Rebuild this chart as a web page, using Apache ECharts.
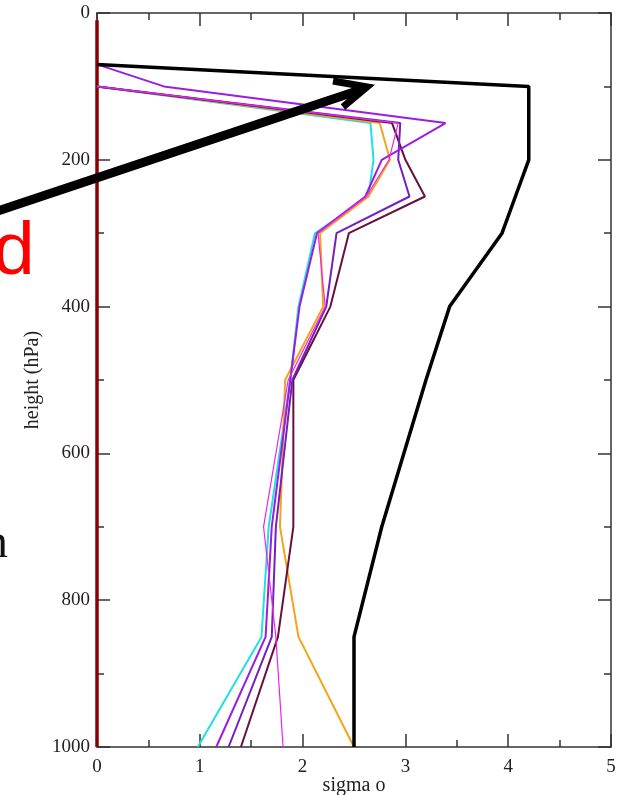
<!DOCTYPE html>
<html>
<head>
<meta charset="utf-8">
<script src="https://cdn.jsdelivr.net/npm/echarts@6/dist/echarts.min.js"></script>
<style>
  html, body { margin: 0; padding: 0; background: #fff; }
  #chart { width: 623px; height: 795px; }
</style>
</head>
<body>
<div id="chart"></div>
<script>
// pressure levels (hPa)
const levelsStd = [100, 150, 200, 250, 300, 400, 500, 700, 850, 1000]
const levelsTop = [70, 100, 150, 200, 250, 300, 400, 500, 700, 850, 1000]
const levelsRed = [10, 1000]

// sigma o values
const sigmaBlack  = [0, 4.2, 4.2, 4.2, 4.07, 3.94, 3.43, 3.2, 2.77, 2.5, 2.5]
const sigmaViolet = [0, 0.65, 3.39, 2.77, 2.61, 2.14, 1.97, 1.88, 1.70, 1.64, 1.16]
const sigmaCyan    = [0, 2.66, 2.69, 2.64, 2.12, 1.96, 1.88, 1.67, 1.60, 0.98]
const sigmaOrange  = [0, 2.75, 2.85, 2.64, 2.17, 2.2, 1.83, 1.78, 1.96, 2.5]
const sigmaMagenta = [0, 2.93, 2.84, 2.62, 2.15, 2.22, 1.86, 1.62, 1.74, 1.81]
const sigmaIndigo  = [0, 2.95, 2.93, 3.04, 2.33, 2.23, 1.90, 1.74, 1.70, 1.28]
const sigmaMaroon  = [0, 2.87, 3.0, 3.19, 2.45, 2.27, 1.91, 1.91, 1.76, 1.40]
const sigmaRed     = [0, 0]

const xTicks = [0, 1, 2, 3, 4, 5]
const yTicks = [0, 200, 400, 600, 800, 1000]

const pairs = (xs, ys) => xs.map((x, i) => [x, ys[i]])

const lineSeries = (data, color, width) => ({
  type: 'line',
  data,
  showSymbol: false,
  symbol: 'none',
  animation: false,
  lineStyle: { color, width },
  itemStyle: { color },
  z: 3,
})

const serif = 'Liberation Serif'
const axisCol = '#333'
const tickStyle = { color: axisCol, width: 1.5 }

// frame axis pieces shared by all four sides (ticks point into the plot)
const frame = {
  axisLine: { show: true, onZero: false, lineStyle: tickStyle },
  axisTick: { show: true, inside: true, length: 13, lineStyle: tickStyle },
  minorTick: { show: true, splitNumber: 2, length: 7, lineStyle: tickStyle },
  splitLine: { show: false },
}

const chart = echarts.init(document.getElementById('chart'))

const option = {
  animation: false,
  backgroundColor: '#fff',
  grid: { left: 97, right: 12, top: 13, bottom: 48, containLabel: false, outerBoundsMode: 'none' },
  xAxis: [
    {
      type: 'value',
      position: 'bottom',
      min: xTicks[0],
      max: xTicks[xTicks.length - 1],
      interval: 1,
      name: 'sigma o',
      nameLocation: 'middle',
      nameGap: 29,
      nameMoveOverlap: false,
      nameTextStyle: { fontFamily: serif, fontSize: 20, color: '#222' },
      ...frame,
      axisLabel: { fontFamily: serif, fontSize: 19, color: '#222', margin: 11 },
    },
    {
      type: 'value',
      position: 'top',
      min: xTicks[0],
      max: xTicks[xTicks.length - 1],
      interval: 1,
      ...frame,
      axisLabel: { show: false },
    },
  ],
  yAxis: [
    {
      type: 'value',
      position: 'left',
      inverse: true,
      min: yTicks[0],
      max: yTicks[yTicks.length - 1],
      interval: 200,
      name: 'height (hPa)',
      nameLocation: 'middle',
      nameGap: 54,
      nameMoveOverlap: false,
      nameTextStyle: { fontFamily: serif, fontSize: 20, color: '#222' },
      ...frame,
      axisLabel: {
        fontFamily: serif, fontSize: 19, color: '#222', margin: 7,
        formatter: (v) => String(v),
      },
    },
    {
      type: 'value',
      position: 'right',
      inverse: true,
      min: yTicks[0],
      max: yTicks[yTicks.length - 1],
      interval: 200,
      ...frame,
      axisLabel: { show: false },
    },
  ],
  series: [
    lineSeries(pairs(sigmaRed, levelsRed), '#8b0000', 3.5),
    lineSeries(pairs(sigmaCyan, levelsStd), '#22e0e0', 2),
    lineSeries(pairs(sigmaOrange, levelsStd), '#f5a31a', 2),
    lineSeries(pairs(sigmaMaroon, levelsStd), '#67103f', 2),
    lineSeries(pairs(sigmaIndigo, levelsStd), '#7221bc', 2),
    lineSeries(pairs(sigmaViolet, levelsTop), '#9a1ee0', 2),
    lineSeries(pairs(sigmaMagenta, levelsStd), '#ee22ee', 1.2),
    lineSeries(pairs(sigmaBlack, levelsTop), '#000', 3.5),
  ],
  // overlay annotations from the slide
  graphic: [
    {
      type: 'polyline',
      shape: { points: [[-5, 212], [360, 90]] },
      style: { stroke: '#000', lineWidth: 9, fill: null },
      z: 10,
    },
    {
      type: 'polyline',
      shape: { points: [[333, 81], [367, 87], [343, 107]] },
      style: { stroke: '#000', lineWidth: 7, fill: null },
      z: 10,
    },
    {
      type: 'text',
      left: -7,
      top: 216,
      style: { text: 'd', fill: '#ff0000', font: '75px "Liberation Sans"' },
      z: 10,
    },
    {
      type: 'text',
      left: -16,
      top: 520,
      style: { text: 'n', fill: '#111', font: '48px "Liberation Serif"' },
      z: 10,
    },
  ],
}

chart.setOption(option)
</script>
</body>
</html>
